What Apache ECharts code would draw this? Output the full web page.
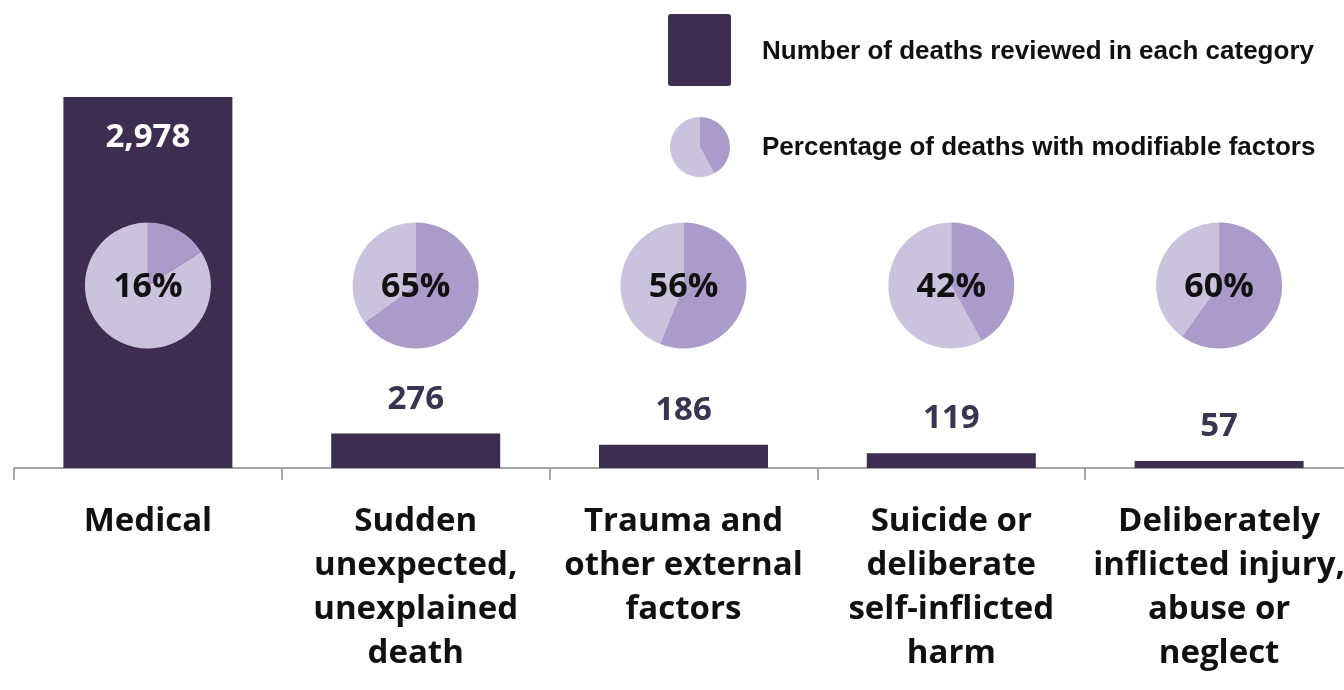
<!DOCTYPE html>
<html>
<head>
<meta charset="utf-8">
<script src="https://cdn.jsdelivr.net/npm/echarts@6/dist/echarts.min.js"></script>
<style>html,body{margin:0;padding:0;background:#fff}#c{width:1344px;height:690px}</style>
</head>
<body>
<div id="c"></div>
<script>
const categories = [
  'Medical',
  'Sudden\nunexpected,\nunexplained\ndeath',
  'Trauma and\nother external\nfactors',
  'Suicide or\ndeliberate\nself-inflicted\nharm',
  'Deliberately\ninflicted injury,\nabuse or\nneglect'
];
const deaths = [2978, 276, 186, 119, 57];
const modifiablePct = [16, 65, 56, 42, 60];
const legendLabels = ['Number of deaths reviewed in each category', 'Percentage of deaths with modifiable factors'];

const BAR = '#3d2d50';
const PIE_LIGHT = '#cbc2dd';
const PIE_DARK = '#ab9bca';
const PIE_LEVEL = 1465;   // vertical placement of the pies, in axis units
const PIE_R = 63;
const FONT = '"Open Sans", "DejaVu Sans", sans-serif';
const LEGEND_FONT = 'bold 26px "Liberation Sans Narrow", "Liberation Sans", sans-serif';

const chart = echarts.init(document.getElementById('c'));

const barData = deaths.map((v, i) => i === 0
  ? { value: v, label: { position: 'insideTop', distance: 24, color: '#ffffff' } }
  : v);

chart.setOption({
  animation: false,
  grid: { left: 14, width: 1339, top: 97, bottom: 222, containLabel: false, outerBoundsMode: 'none' },
  xAxis: {
    type: 'category',
    data: categories,
    boundaryGap: true,
    axisLine: { lineStyle: { color: '#8a8a8a', width: 1.5 } },
    axisTick: { show: true, length: 12, lineStyle: { color: '#8a8a8a', width: 1.5 } },
    axisLabel: {
      interval: 0,
      margin: 32,
      color: '#111111',
      fontFamily: FONT,
      fontWeight: 'bold',
      fontSize: 33,
      lineHeight: 44,
      align: 'center'
    }
  },
  yAxis: { type: 'value', min: 0, max: 2978, show: false, splitLine: { show: false } },
  series: [
    {
      type: 'bar',
      data: barData,
      barWidth: 169,
      itemStyle: { color: BAR },
      label: {
        show: true,
        position: 'top',
        distance: 18,
        color: '#3b3450',
        fontFamily: FONT,
        fontWeight: 'bold',
        fontSize: 33,
        formatter: p => p.value.toLocaleString('en-US')
      }
    },
    {
      type: 'custom',
      data: modifiablePct.map((p, i) => [i, p]),
      z: 5,
      renderItem: (params, api) => {
        const i = api.value(0);
        const p = api.value(1);
        const c = api.coord([i, PIE_LEVEL]);
        const s = -Math.PI / 2;
        const e = s + 2 * Math.PI * p / 100;
        return {
          type: 'group',
          children: [
            { type: 'sector', shape: { cx: c[0], cy: c[1], r: PIE_R, startAngle: e, endAngle: s + 2 * Math.PI, clockwise: true }, style: { fill: PIE_LIGHT } },
            { type: 'sector', shape: { cx: c[0], cy: c[1], r: PIE_R, startAngle: s, endAngle: e, clockwise: true }, style: { fill: PIE_DARK } },
            { type: 'text', style: { text: p + '%', x: c[0], y: c[1] + 2, align: 'center', verticalAlign: 'middle', fill: '#111111', font: 'bold 34px ' + FONT } }
          ]
        };
      }
    }
  ],
  graphic: [
    { type: 'rect', left: 668, top: 14, shape: { width: 63, height: 72, r: 3 }, style: { fill: BAR } },
    { type: 'text', x: 762, y: 52, style: { text: legendLabels[0], fill: '#111111', font: LEGEND_FONT, verticalAlign: 'middle' } },
    { type: 'sector', shape: { cx: 700, cy: 147, r: 30, startAngle: -Math.PI / 2 + 2 * Math.PI * 0.42, endAngle: 1.5 * Math.PI }, style: { fill: PIE_LIGHT } },
    { type: 'sector', shape: { cx: 700, cy: 147, r: 30, startAngle: -Math.PI / 2, endAngle: -Math.PI / 2 + 2 * Math.PI * 0.42 }, style: { fill: PIE_DARK } },
    { type: 'text', x: 762, y: 148, style: { text: legendLabels[1], fill: '#111111', font: LEGEND_FONT, verticalAlign: 'middle' } }
  ]
});
</script>
</body>
</html>
